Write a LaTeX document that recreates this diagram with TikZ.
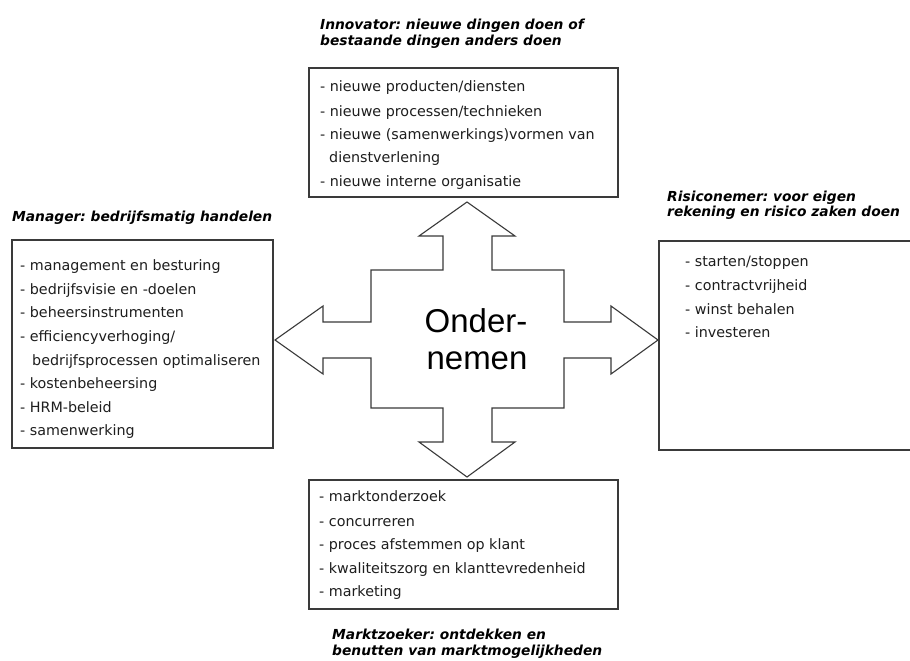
\documentclass[tikz,border=0pt]{standalone}
\usepackage{fontspec}
\setmainfont{DejaVu Sans}
\newfontfamily\centerfont{Liberation Sans}
\newfontfamily\titlefont{DejaVu Sans}[BoldItalicFont={DejaVu Sans Bold Oblique},BoldFont={DejaVu Sans Bold},ItalicFont={DejaVu Sans Oblique}]
\definecolor{linec}{HTML}{3A3A3A}
\definecolor{textc}{HTML}{1E1E1E}
\tikzset{
  boxline/.style={draw=linec, line width=1.2pt},
  crossline/.style={draw=linec, line width=1.1pt, fill=white, line join=miter},
  item/.style={anchor=base west, inner sep=0pt, text=textc, font=\fontsize{14.3}{16}\selectfont},
  ttl/.style={anchor=base west, inner sep=0pt, text=black, font=\titlefont\bfseries\itshape\fontsize{13.8}{15}\selectfont},
  center text/.style={anchor=base, inner sep=0pt, text=black, font=\centerfont\fontsize{33}{38}\selectfont}
}
\begin{document}
\frenchspacing
\begin{tikzpicture}[x=1pt,y=-1pt]
\useasboundingbox (0,0) rectangle (910,661);
\fill[white] (0,0) rectangle (910,661);

% boxes
\draw[boxline] (309,68) rectangle (618,197);
\draw[boxline] (12,240) rectangle (273,448);
\draw[boxline] (910,241) -- (659,241) -- (659,450) -- (910,450);
\draw[boxline] (309,480) rectangle (618,609);

% cross
\draw[crossline] (467,202) -- (515,236) -- (492,236) -- (492,270) -- (564,270) -- (564,322)
  -- (611,322) -- (611,306) -- (658,340) -- (611,374) -- (611,358) -- (564,358)
  -- (564,408) -- (492,408) -- (492,442) -- (515,442) -- (467,477) -- (419,442)
  -- (443,442) -- (443,408) -- (371,408) -- (371,358) -- (323,358) -- (323,374)
  -- (275,340) -- (323,306) -- (323,322) -- (371,322) -- (371,270) -- (443,270)
  -- (443,236) -- (419,236) -- cycle;
\node[center text] (c1) at (476,332) {Onder-};
\node[center text] (c2) at (477,369) {nemen};

% titles
\node[ttl] (t1a) at (320,30) {Innovator: nieuwe dingen doen of};
\node[ttl] (t1b) at (320,46) {bestaande dingen anders doen};
\node[ttl] (t2) at (12,221) {Manager: bedrijfsmatig handelen};
\node[ttl] (t3a) at (667,201) {Risiconemer: voor eigen};
\node[ttl] (t3b) at (667,216) {rekening en risico zaken doen};
\node[ttl] (t4a) at (332,639) {Marktzoeker: ontdekken en};
\node[ttl] (t4b) at (332,655) {benutten van marktmogelijkheden};

% top list
\node[item] (a1) at (320,92) {- nieuwe producten/diensten};
\node[item] (a2) at (320,116) {- nieuwe processen/technieken};
\node[item] (a3) at (320,139) {- nieuwe (samenwerkings)vormen van};
\node[item] (a4) at (329,162) {dienstverlening};
\node[item] (a5) at (320,186) {- nieuwe interne organisatie};

% left list
\node[item] (b1) at (20,270) {- management en besturing};
\node[item] (b2) at (20,294) {- bedrijfsvisie en -doelen};
\node[item] (b3) at (20,317) {- beheersinstrumenten};
\node[item] (b4) at (20,341) {- efficiencyverhoging/};
\node[item] (b5) at (32,365) {bedrijfsprocessen optimaliseren};
\node[item] (b6) at (20,388) {- kostenbeheersing};
\node[item] (b7) at (20,412) {- HRM-beleid};
\node[item] (b8) at (20,435) {- samenwerking};

% right list
\node[item] (r1) at (685,266) {- starten/stoppen};
\node[item] (r2) at (685,290) {- contractvrijheid};
\node[item] (r3) at (685,314) {- winst behalen};
\node[item] (r4) at (685,337) {- investeren};

% bottom list
\node[item] (m1) at (319,501) {- marktonderzoek};
\node[item] (m2) at (319,526) {- concurreren};
\node[item] (m3) at (319,549) {- proces afstemmen op klant};
\node[item] (m4) at (319,573) {- kwaliteitszorg en klanttevredenheid};
\node[item] (m5) at (319,596) {- marketing};
\end{tikzpicture}
\end{document}
